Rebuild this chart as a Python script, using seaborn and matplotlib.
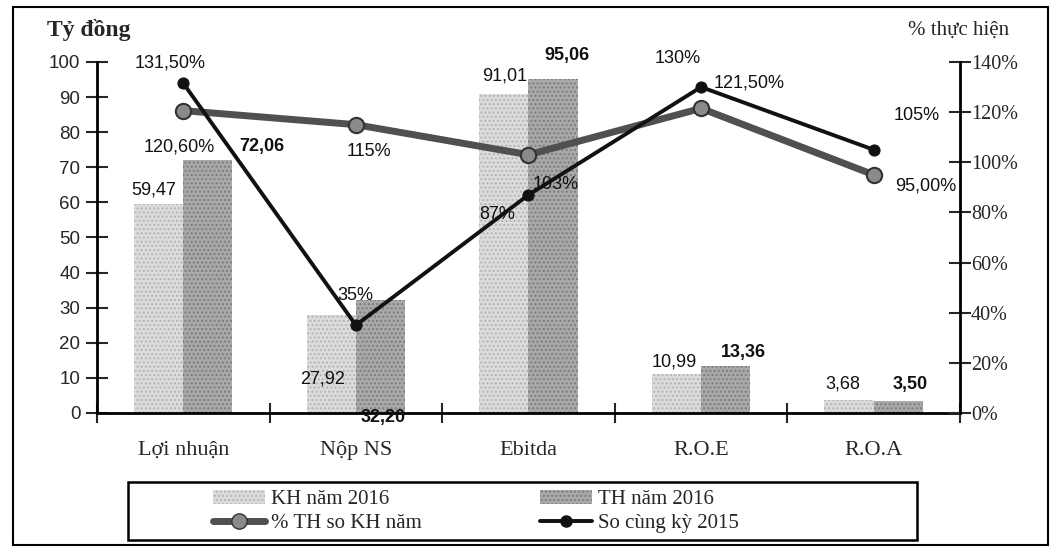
import pandas as pd
import matplotlib
matplotlib.use('Agg')
import matplotlib.pyplot as plt
import seaborn as sns
import numpy as np
from matplotlib.patches import Patch, Rectangle
from matplotlib.lines import Line2D
from matplotlib.ticker import FuncFormatter, MultipleLocator

# Data
categories = ['Lợi nhuận', 'Nộp NS', 'Ebitda', 'R.O.E', 'R.O.A']
kh_2016 = [59.47, 27.92, 91.01, 10.99, 3.68]
th_2016 = [72.06, 32.20, 95.06, 13.36, 3.50]
pct_th_kh = [120.60, 115.0, 103.0, 121.50, 95.00]
pct_cung_ky = [131.50, 35.0, 87.0, 130.0, 105.0]
kh_labels = ['59,47', '27,92', '91,01', '10,99', '3,68']
th_labels = ['72,06', '32,20', '95,06', '13,36', '3,50']
pct_th_kh_labels = ['120,60%', '115%', '103%', '121,50%', '95,00%']
pct_cung_ky_labels = ['131,50%', '35%', '87%', '130%', '105%']
series_names = ['KH năm 2016', 'TH năm 2016']

df = pd.DataFrame({
    'Chỉ tiêu': categories * 2,
    'Loại': [series_names[0]] * 5 + [series_names[1]] * 5,
    'Giá trị': kh_2016 + th_2016,
})

SANS = 'Liberation Sans'
SERIF = 'Liberation Serif'

sns.set_style('white')
plt.rcParams['font.family'] = [SANS, 'DejaVu Sans']

fig = plt.figure(figsize=(10.59, 5.48), dpi=100)
ax = fig.add_axes([0.0916, 0.2464, 0.8149, 0.6405])

kh_col, th_col = '#dcdcdc', '#a9a9a9'
sns.barplot(data=df, x='Chỉ tiêu', y='Giá trị', hue='Loại', palette=[kh_col, th_col],
            width=0.57, saturation=1, legend=False, ax=ax)
hatch_cols = ['#b4b4b4', '#7c7c7c']
for cont, hc in zip(ax.containers, hatch_cols):
    for p in cont:
        p.set_edgecolor(hc)
        p.set_linewidth(0)
        p.set_hatch('....')

ax.set_xlim(-0.5, 4.5)
ax.set_ylim(0, 100)
ax.yaxis.set_major_locator(MultipleLocator(10))
ax.set_xlabel('')
ax.set_ylabel('')
for s in ['top', 'right']:
    ax.spines[s].set_visible(False)
for s in ['left', 'bottom']:
    ax.spines[s].set_linewidth(2)
    ax.spines[s].set_color('black')
ax.tick_params(axis='y', direction='inout', length=16, width=1.5, labelsize=13.5, pad=4, left=True)
for t in ax.get_yticklabels():
    t.set_family(SANS)
ax.set_xticks(range(5))
ax.set_xticklabels(categories, family=SERIF, fontsize=16)
ax.tick_params(axis='x', length=0, pad=20)
ax.set_xticks(np.arange(-0.5, 5, 1), minor=True)
ax.tick_params(axis='x', which='minor', direction='inout', length=14, width=1.5, bottom=True)

# Right axis with lines
ax2 = ax.twinx()
x = np.arange(len(categories))
sns.lineplot(x=x, y=pct_th_kh, ax=ax2, color='#505050', linewidth=5, marker='o',
             markersize=11, markerfacecolor='#8a8a8a', markeredgecolor='#333333',
             markeredgewidth=1.5, sort=False)
sns.lineplot(x=x, y=pct_cung_ky, ax=ax2, color='#111111', linewidth=2.8, marker='o',
             markersize=8, markerfacecolor='#111111', markeredgecolor='#111111', sort=False)
ax2.set_ylim(0, 140)
ax2.set_xlim(-0.5, 4.5)
ax2.yaxis.set_major_locator(MultipleLocator(20))
ax2.yaxis.set_major_formatter(FuncFormatter(lambda v, p: f'{v:.0f}%'))
for s in ['top', 'left', 'bottom']:
    ax2.spines[s].set_visible(False)
ax2.spines['right'].set_linewidth(2)
ax2.spines['right'].set_color('black')
ax2.tick_params(axis='y', direction='inout', length=16, width=1.5, labelsize=14.5, pad=0, right=True)
for t in ax2.get_yticklabels():
    t.set_family(SERIF)

# Bar labels: offsets in pixels from bar top centre
kh_off = [(-5, 14), (-9, -64), (1, 18), (-2, 12), (-6, 16)]
th_off = [(54, 14), (3, -118), (14, 24), (18, 14), (12, 16)]
for cont, labels, offs, wt in zip(ax.containers, [kh_labels, th_labels], [kh_off, th_off],
                                  ['normal', 'bold']):
    for p, lab, off in zip(cont, labels, offs):
        ax.annotate(lab, (p.get_x() + p.get_width() / 2, p.get_height()), xytext=off,
                    textcoords='offset pixels', ha='center', va='center', fontsize=13,
                    family=SANS, fontweight=wt, color='#111111', zorder=5)

# Line labels
ck_off = [(-13, 20), (-1, 30), (-31, -20), (-23, 29), (43, 34)]
kh_line_off = [(-4, -36), (13, -27), (27, -30), (48, 25), (52, -11)]
for xi, yv, lab, off in zip(x, pct_cung_ky, pct_cung_ky_labels, ck_off):
    ax2.annotate(lab, (xi, yv), xytext=off, textcoords='offset pixels', ha='center',
                 va='center', fontsize=13, family=SANS, color='#111111')
for xi, yv, lab, off in zip(x, pct_th_kh, pct_th_kh_labels, kh_line_off):
    ax2.annotate(lab, (xi, yv), xytext=off, textcoords='offset pixels', ha='center',
                 va='center', fontsize=13, family=SANS, color='#111111')

# Axis titles
fig.text(0.044, 0.945, 'Tỷ đồng', family=SERIF, fontsize=17, fontweight='bold', ha='left', va='center')
fig.text(0.953, 0.945, '% thực hiện', family=SERIF, fontsize=15, ha='right', va='center')

# Legend (frame drawn separately)
handles = [
    Patch(facecolor=kh_col, edgecolor=hatch_cols[0], hatch='....', linewidth=0),
    Line2D([0], [0], color='#505050', linewidth=5, marker='o', markersize=11,
           markerfacecolor='#8a8a8a', markeredgecolor='#333333'),
    Patch(facecolor=th_col, edgecolor=hatch_cols[1], hatch='....', linewidth=0),
    Line2D([0], [0], color='#111111', linewidth=2.8, marker='o', markersize=8,
           markerfacecolor='#111111'),
]
labels = [series_names[0], '% TH so KH năm', series_names[1], 'So cùng kỳ 2015']
leg = fig.legend(handles, labels, ncol=2, loc='center left', bbox_to_anchor=(0.201, 0.067),
                 prop={'family': SERIF, 'size': 15}, frameon=False,
                 handlelength=2.5, handletextpad=0.3, columnspacing=5.65,
                 labelspacing=0.2, borderpad=0, borderaxespad=0)
fig.add_artist(Rectangle((0.121, 0.015), 0.745, 0.106, transform=fig.transFigure,
                         fill=False, edgecolor='black', linewidth=1.8))

# Outer frame
fig.add_artist(Rectangle((0.012, 0.006), 0.978, 0.981, transform=fig.transFigure,
                         fill=False, edgecolor='black', linewidth=1.5))

fig.savefig('out.png', dpi=100)
